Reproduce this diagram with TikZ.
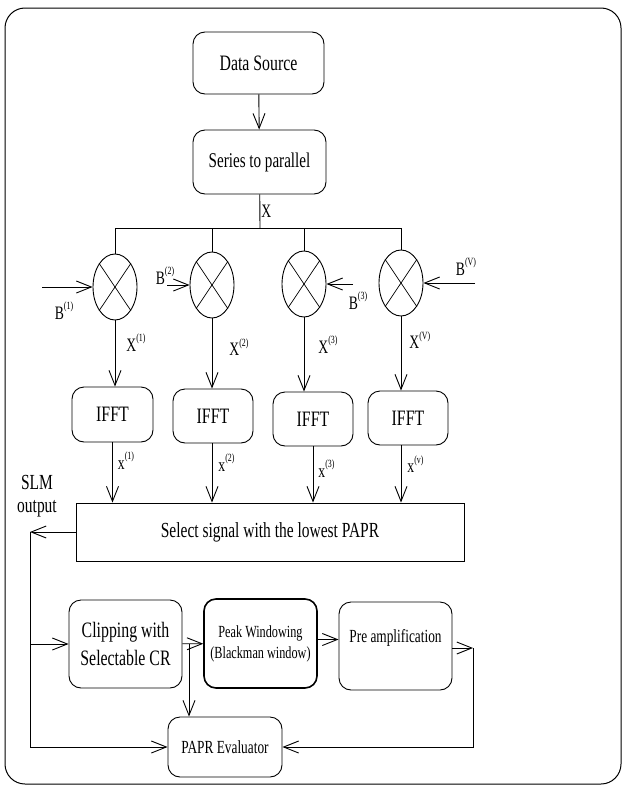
\documentclass[tikz,border=0pt]{standalone}
\usepackage{fontspec}
\setmainfont{Liberation Serif}[FakeStretch=0.72]
\usetikzlibrary{arrows.meta,shapes.geometric}
\newcommand{\sps}[1]{\raisebox{1.1ex}{\fontsize{11}{11}\selectfont(#1)}}
\tikzset{
  ar/.style={-{Straight Barb[length=15pt,width=12pt]},line width=0.9pt},
  ln/.style={line width=0.9pt},
  blk/.style={draw,line width=0.9pt,rounded corners=12pt,align=center,inner sep=2pt},
  mix/.style={draw,ellipse,line width=0.9pt,minimum width=44pt,minimum height=66pt,inner sep=0pt},
  lbl/.style={font=\fontsize{19}{21}\selectfont,inner sep=1pt}
}
\begin{document}
\begin{tikzpicture}[x=1pt,y=-1pt]
\useasboundingbox (0,0) rectangle (626,787);
\draw[line width=1pt,rounded corners=20pt] (5,8) rectangle (621,784);
% source and serial to parallel
\node[blk,minimum width=131pt,minimum height=62pt,font=\fontsize{22}{24}\selectfont] (ds) at (258.5,63) {Data Source};
\node[blk,minimum width=133pt,minimum height=64pt,font=\fontsize{21}{24}\selectfont] (sp) at (259.5,162) {Series to parallel};
\draw[ar] (ds) -- (sp);
\coordinate (bus) at (260,228);
\draw[ln] (sp) -- node[lbl,right,pos=0.5]{X} (bus);
% phase rotation
\node[mix] (m1) at (115,287) {};
\node[mix] (m2) at (212,285) {};
\node[mix] (m3) at (304,284) {};
\node[mix] (m4) at (401,283) {};
\foreach \m in {m1,m2,m3,m4}{
 \draw[line width=0.7pt] (\m.north west) -- (\m.south east);
 \draw[line width=0.7pt] (\m.north east) -- (\m.south west);}
\draw[ln] (m1.north) -- (m1.north |- bus) -- (m4.north |- bus) -- (m4.north);
\draw[ln] (m2.north) -- (m2.north |- bus);
\draw[ln] (m3.north) -- (m3.north |- bus);
\coordinate (b1) at (42,287);
\coordinate (b2) at (167,285);
\coordinate (b3) at (353,284);
\coordinate (b4) at (475,283);
\draw[ar] (b1) -- (m1);
\draw[ar] (b2) -- (m2);
\draw[ar] (b3) -- (m3);
\draw[ar] (b4) -- (m4);
\node[lbl] (lb1) at (64,311) {B\sps{1}};
\node[lbl] (lb2) at (165,276) {B\sps{2}};
\node[lbl] (lb3) at (358,301) {B\sps{3}};
\node[lbl] (lb4) at (466,267) {B\sps{V}};
% IFFT branches
\node[blk,minimum width=81pt,minimum height=55pt,font=\fontsize{22}{24}\selectfont] (i1) at (112.5,414.5) {IFFT};
\node[blk,minimum width=80pt,minimum height=54pt,font=\fontsize{22}{24}\selectfont] (i2) at (213,416) {IFFT};
\node[blk,minimum width=80pt,minimum height=54pt,font=\fontsize{22}{24}\selectfont] (i3) at (313,419) {IFFT};
\node[blk,minimum width=80pt,minimum height=54pt,font=\fontsize{22}{24}\selectfont] (i4) at (408,418) {IFFT};
\draw[ar] (m1) -- node[lbl,right,pos=0.34,xshift=10pt]{X\sps{1}} (m1.south |- i1.north);
\draw[ar] (m2) -- node[lbl,right,pos=0.41,xshift=16pt]{X\sps{2}} (m2.south |- i2.north);
\draw[ar] (m3) -- node[lbl,right,pos=0.37,xshift=13pt]{X\sps{3}} (m3.south |- i3.north);
\draw[ar] (m4) -- node[lbl,right,pos=0.32,xshift=7pt]{X\sps{V}} (m4.south |- i4.north);
\node[draw,ln,minimum width=388pt,minimum height=58pt,font=\fontsize{21.5}{24}\selectfont] (sel) at (270,532) {Select signal with the lowest PAPR};
\draw[ar] (i1) -- node[lbl,right,pos=0.3,xshift=4pt]{x\sps{1}} (i1.south |- sel.north);
\draw[ar] (i2.south -| m2) -- node[lbl,right,pos=0.33,xshift=5pt]{x\sps{2}} (m2 |- sel.north);
\draw[ar] (i3) -- node[lbl,right,pos=0.4,xshift=4pt]{x\sps{3}} (i3.south |- sel.north);
\draw[ar] (i4.south -| m4) -- node[lbl,right,pos=0.33,xshift=5pt]{x\sps{v}} (m4 |- sel.north);
% SLM output and clipping chain
\node[font=\fontsize{21.5}{23}\selectfont,align=center,inner sep=0pt] (slmtxt) at (37,496) {SLM\\output};
\coordinate (slm) at (30,532);
\draw[ar] (sel) -- (slm);
\node[blk,minimum width=113pt,minimum height=88pt,font=\fontsize{22}{28}\selectfont] (clip) at (125.5,644) {Clipping with\\Selectable CR};
\node[blk,line width=1.6pt,minimum width=113pt,minimum height=89pt,font=\fontsize{17}{21}\selectfont] (peak) at (260.5,643.5) {Peak Windowing\\(Blackman window)};
\node[blk,minimum width=113pt,minimum height=88pt,font=\fontsize{18.5}{22}\selectfont,text depth=20pt] (pre) at (395.5,646) {Pre amplification};
\node[blk,minimum width=114pt,minimum height=60pt,font=\fontsize{18.5}{22}\selectfont] (pe) at (225,747) {PAPR Evaluator};
\draw[ar] (slm) |- (pe);
\draw[ar] (slm |- clip) -- (clip);
\draw[ar] (clip) -- (peak);
\coordinate (br) at (189,644);
\draw[ar] (br) -- (br |- pe.north);
\draw[ar] ([yshift=4pt]peak.east) -- ([yshift=4pt]peak.east -| pre.west);
\coordinate (fb) at (473,648);
\draw[ar] (pre.east |- fb) -- (fb);
\draw[ar] (fb) |- (pe);
\end{tikzpicture}
\end{document}
